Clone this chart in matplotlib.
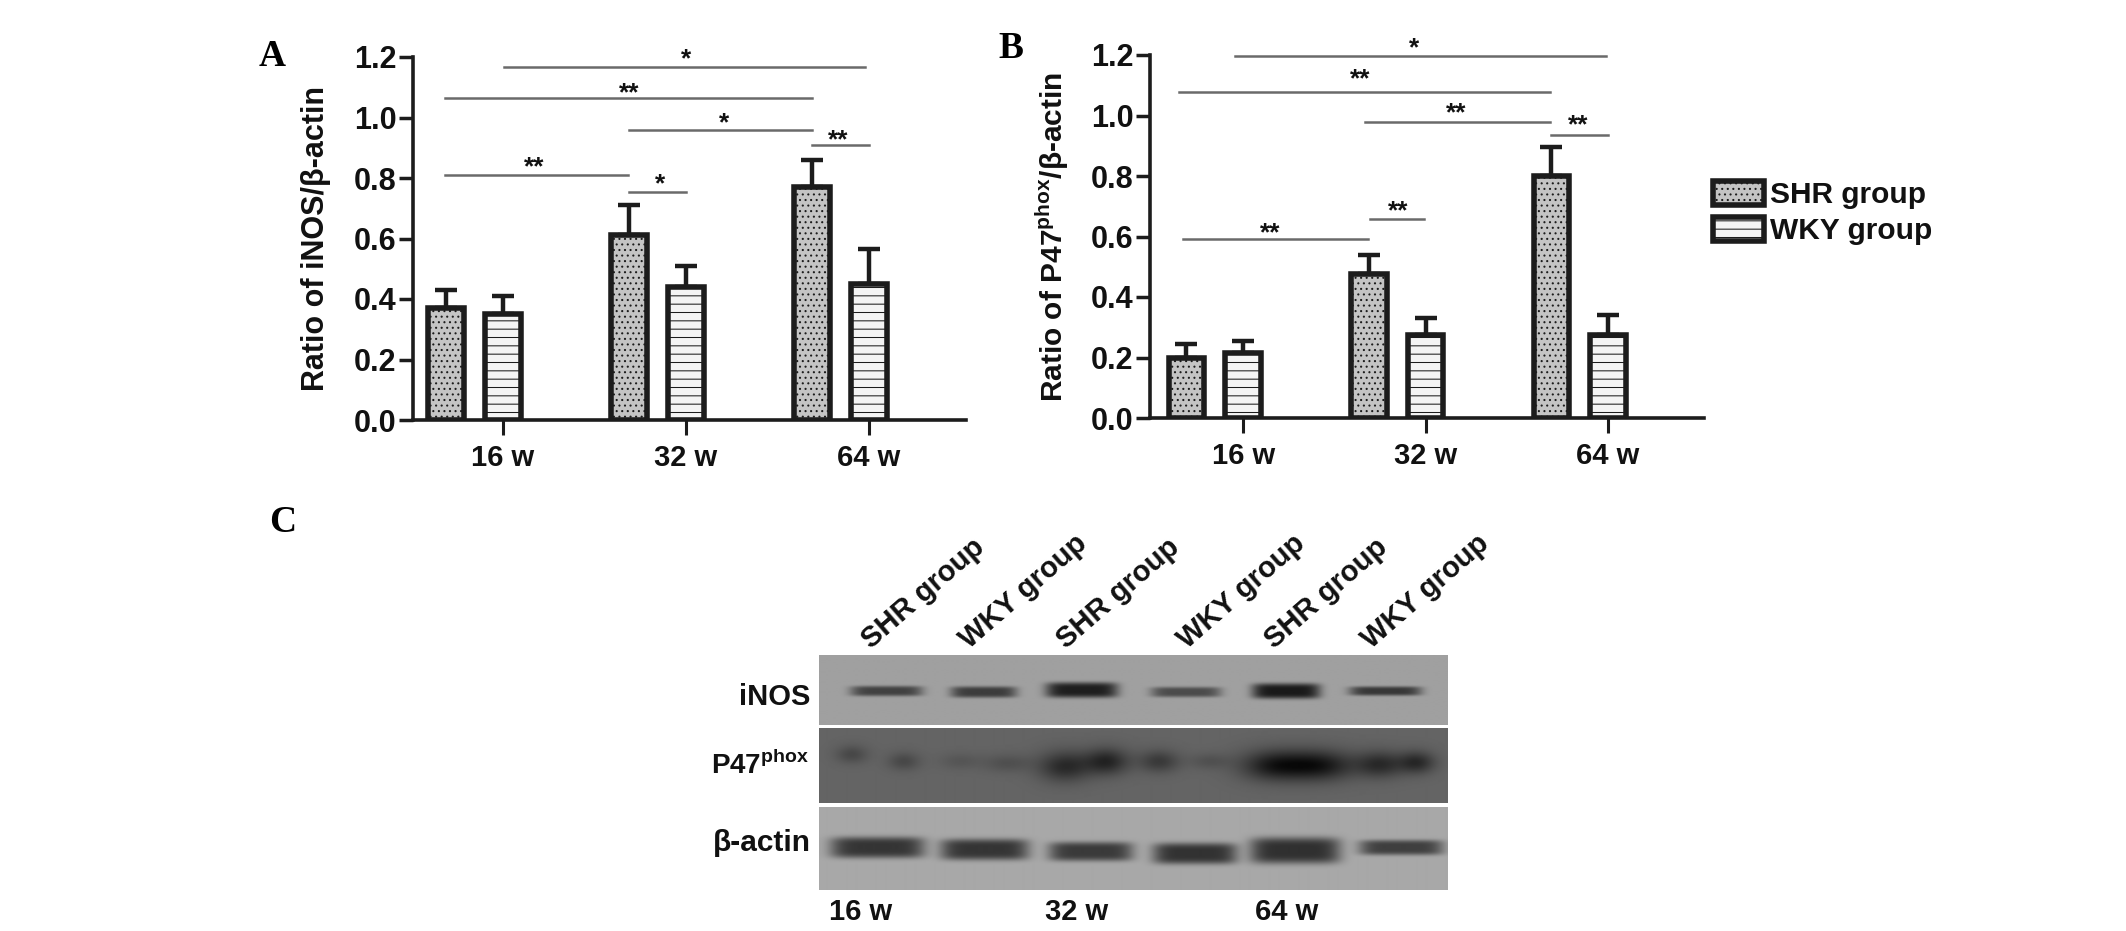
#!/usr/bin/env python3
# Panels A, B: bars with sem and significance lines; panel C: western blot strips
import numpy as np
import matplotlib
matplotlib.use('Agg')
import matplotlib.pyplot as plt
from matplotlib.patches import Patch

W, H = 2126, 931
DARK = '#1c1c1c'

plt.rcParams['font.family'] = ['Liberation Sans', 'DejaVu Sans']
plt.rcParams['font.weight'] = 'bold'
plt.rcParams['mathtext.fontset'] = 'custom'
plt.rcParams['mathtext.bf'] = 'Liberation Sans:bold'
plt.rcParams['mathtext.rm'] = 'Liberation Sans:bold'
plt.rcParams['hatch.linewidth'] = 0.75

# ---- data ----
weeks = ['16 w', '32 w', '64 w']
groups = ['SHR group', 'WKY group']
yticks = [0.0, 0.2, 0.4, 0.6, 0.8, 1.0, 1.2]

inos_shr = [0.37, 0.61, 0.77]
inos_shr_err = [0.06, 0.10, 0.09]
inos_wky = [0.35, 0.44, 0.45]
inos_wky_err = [0.06, 0.07, 0.115]

p47_shr = [0.20, 0.475, 0.80]
p47_shr_err = [0.045, 0.065, 0.095]
p47_wky = [0.215, 0.275, 0.275]
p47_wky_err = [0.04, 0.055, 0.065]

# significance lines: x0, x1, y
inos_lines = [(0.005, 1.98, 1.168), (-0.317, 1.69, 1.065), (0.69, 1.69, 0.96),
              (1.69, 2.0, 0.91), (-0.317, 0.683, 0.81), (0.69, 1.0, 0.755)]
# stars: x, y, label
inos_stars = [(1.0, 1.20, '*'), (0.69, 1.09, '**'), (1.21, 0.99, '*'),
              (1.83, 0.933, '**'), (0.17, 0.844, '**'), (0.86, 0.788, '*')]

p47_lines = [(-0.044, 1.99, 1.197), (-0.35, 1.68, 1.078), (0.67, 1.68, 0.98),
             (1.685, 2.0, 0.935), (-0.33, 0.685, 0.593), (0.695, 0.99, 0.658)]
p47_stars = [(0.94, 1.23, '*'), (0.64, 1.127, '**'), (1.17, 1.016, '**'),
             (1.836, 0.976, '**'), (0.148, 0.619, '**'), (0.85, 0.691, '**')]

# blot strips: band centre x, half width, half height, centre y, darkness
inos_band_x = [67, 164, 262, 366, 466, 565]
inos_band_w = [36, 33, 36, 35, 34, 36]
inos_band_h = [5, 5.5, 7.5, 5, 7.5, 4.5]
inos_band_y = [36, 37, 35, 37, 36, 36]
inos_band_d = [95, 100, 130, 85, 135, 105]

p47_band_x = [32, 84, 140, 187, 245, 287, 339, 389, 455, 500, 560, 597]
p47_band_w = [16, 16, 20, 24, 26, 22, 20, 20, 34, 34, 24, 18]
p47_band_h = [9, 9, 8, 9, 15, 13, 11, 8, 15, 15, 13, 11]
p47_band_y = [26, 33, 33, 35, 38, 33, 33, 33, 37, 37, 36, 34]
p47_band_d = [28, 28, 14, 20, 58, 62, 42, 18, 72, 72, 56, 56]

actin_band_x = [58, 165, 271, 375, 475, 581]
actin_band_w = [47, 44, 42, 42, 45, 42]
actin_band_h = [10.5, 10.5, 9.5, 10.5, 13, 7.5]
actin_band_y = [40, 42, 44, 46, 43, 40]
actin_band_d = [115, 115, 110, 118, 120, 105]


def px_axes(x0, y0, x1, y1):
  # axes from pixel box, y counted from the top of the picture
  return fig.add_axes([x0 / W, 1 - y1 / H, (x1 - x0) / W, (y1 - y0) / H])


def px_text(x, y, s, **kw):
  fig.text(x / W, 1 - y / H, s, **kw)


def bar_panel(ax, shr, shr_err, wky, wky_err, lines, stars, ylab, xlim, ysize, ypad):
  x = np.arange(3)
  ax.errorbar(x - 0.31, shr, yerr=[np.zeros(3), shr_err], fmt='none', ecolor=DARK,
              elinewidth=3.2, capsize=8, capthick=3.2, zorder=1)
  ax.errorbar(x, wky, yerr=[np.zeros(3), wky_err], fmt='none', ecolor=DARK,
              elinewidth=3.2, capsize=8, capthick=3.2, zorder=1)
  ax.bar(x - 0.31, shr, 0.195, facecolor='#c4c4c4', edgecolor=DARK, linewidth=4,
         hatch='...', zorder=2)
  ax.bar(x, wky, 0.195, facecolor='#f4f4f4', edgecolor=DARK, linewidth=4,
         hatch='--', zorder=2)

  for x0, x1, y in lines:
    ax.plot([x0, x1], [y, y], color='#6a6a6a', lw=1.8, clip_on=False, zorder=3)
  for sx, sy, lab in stars:
    ax.annotate(lab, (sx, sy), xytext=(0, -7), textcoords='offset points', ha='center',
                va='baseline', fontsize=19, color='#111111', annotation_clip=False)

  ax.set_xlim(xlim)
  ax.set_ylim(0, 1.2)
  ax.set_xticks(x)
  ax.set_xticklabels(weeks)
  ax.set_yticks(yticks)
  ax.set_yticklabels(['%.1f' % t for t in yticks])
  ax.tick_params(axis='x', length=11, width=2.2, color=DARK, labelsize=21, pad=6, labelcolor='#111111')
  ax.tick_params(axis='y', length=10, width=2.5, color=DARK, labelsize=22, pad=2, labelcolor='#111111')
  ax.set_ylabel(ylab, fontsize=ysize, fontweight='bold', color='#111111', labelpad=ypad)
  ax.spines['top'].set_visible(False)
  ax.spines['right'].set_visible(False)
  ax.spines['left'].set_linewidth(2.6)
  ax.spines['bottom'].set_linewidth(2.6)
  ax.spines['left'].set_color(DARK)
  ax.spines['bottom'].set_color(DARK)
  ax.patch.set_alpha(0)


def blot_strip(box, bg, bx, bw, bh, by, bd, px=6, py=4):
  x0, y0, x1, y1 = box
  ax = px_axes(x0, y0, x1, y1)
  xx, yy = np.meshgrid(np.arange(x1 - x0), np.arange(y1 - y0))
  img = np.full(xx.shape, float(bg))
  for c, w, h, yc, d in zip(bx, bw, bh, by, bd):
    img -= d * np.exp(-np.abs((xx - c) / w) ** px) * np.exp(-np.abs((yy - yc) / h) ** py)
  ax.imshow(np.clip(img, 8, 255), cmap='gray', vmin=0, vmax=255, aspect='auto',
            interpolation='bilinear')
  ax.axis('off')


fig = plt.figure(figsize=(W / 100, H / 100), dpi=100)

# panel A
ax_a = px_axes(413, 57, 966, 420)
bar_panel(ax_a, inos_shr, inos_shr_err, inos_wky, inos_wky_err, inos_lines, inos_stars,
          'Ratio of iNOS/β-actin', (-0.492, 2.53), 22, 16)

# panel B
ax_b = px_axes(1150, 55, 1704, 418)
bar_panel(ax_b, p47_shr, p47_shr_err, p47_wky, p47_wky_err, p47_lines, p47_stars,
          r'Ratio of P47$^{\mathbf{phox}}$/β-actin', (-0.51, 2.526), 21.5, 14)

# legend sits to the right of panel B
handles = [Patch(facecolor='#c4c4c4', edgecolor=DARK, linewidth=4, hatch='...'),
           Patch(facecolor='#f4f4f4', edgecolor=DARK, linewidth=4, hatch='--')]
ax_b.legend(handles, groups, loc='upper left', bbox_to_anchor=(1713 / W, 1 - 181 / H),
            bbox_transform=fig.transFigure, frameon=False, fontsize=21.5, handlelength=1.7,
            handleheight=0.85, handletextpad=0.2, labelspacing=0.25, borderpad=0,
            borderaxespad=0, labelcolor='#111111')

# panel letters
serif = dict(family='Liberation Serif', fontweight='bold', fontsize=27, color='black',
             ha='center', va='center')
px_text(272, 57, 'A', **serif)
px_text(1011, 48, 'B', **serif)
px_text(283, 522, 'C', **serif)

# panel C, blot strips
blot_strip((819, 655, 1447, 725), 160, inos_band_x, inos_band_w, inos_band_h, inos_band_y, inos_band_d)
blot_strip((819, 728, 1447, 803), 100, p47_band_x, p47_band_w, p47_band_h, p47_band_y, p47_band_d, 2, 2)
blot_strip((819, 807, 1447, 890), 168, actin_band_x, actin_band_w, actin_band_h, actin_band_y, actin_band_d)

lane_labels = groups * 3
lane_x = [875, 973, 1070, 1191, 1278, 1375]
for lx, lab in zip(lane_x, lane_labels):
  px_text(lx, 654, lab, rotation=41, rotation_mode='anchor', ha='left', va='bottom',
          fontsize=21, color='#111111')

px_text(810, 697, 'iNOS', ha='right', va='center', fontsize=21, color='#111111')
px_text(809, 765, r'P47$^{\mathbf{phox}}$', ha='right', va='center', fontsize=20, color='#111111')
px_text(811, 843, 'β-actin', ha='right', va='center', fontsize=21.5, color='#111111')

for lx, lab in zip([861, 1077, 1287], weeks):
  px_text(lx, 912, lab, ha='center', va='center', fontsize=21, color='#111111')

fig.savefig('out.png', dpi=100)
plt.close()
